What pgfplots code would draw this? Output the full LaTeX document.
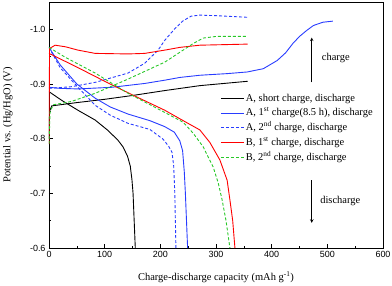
\documentclass[border=0pt]{standalone}
\usepackage{pgfplots}
\pgfplotsset{compat=1.18}
\usepackage{fontspec}
\setmainfont{Liberation Serif}
\newfontfamily\arial{Liberation Sans}
\definecolor{cblue}{RGB}{40,60,255}
\definecolor{cred}{RGB}{255,0,0}
\definecolor{cgreen}{RGB}{40,200,40}
\begin{document}
\begin{tikzpicture}
\begin{axis}[
  at={(0,0)}, anchor=south west,
  scale only axis, width=334bp, height=246bp,
  xmin=0, xmax=600, ymin=-1.05, ymax=-0.6,
  y dir=reverse,
  xtick={0,100,...,600},
  ytick={-1.0,-0.9,-0.8,-0.7,-0.6},
  yticklabels={-1.0,-0.9,-0.8,-0.7,-0.6},
  minor x tick num=1, minor y tick num=1,
  xtick pos=bottom, ytick pos=left,
  tick align=inside,
  major tick length=4bp, minor tick length=2.5bp,
  tick style={black, line width=0.6pt},
  axis line style={line width=0.7pt},
  ticklabel style={font=\arial\fontsize{9}{10}\selectfont},
  /pgf/number format/assume math mode=true,
  xlabel={Charge-discharge capacity (mAh g\textsuperscript{-1})},
  ylabel={Potential vs. (Hg/HgO) (V)},
  label style={font=\fontsize{10.5}{12}\selectfont},
  ylabel style={at={(axis description cs:-0.123,0.5)}, anchor=center},
  xlabel style={at={(axis description cs:0.5,-0.12)}, anchor=center},
  legend style={draw=none, fill=none, at={(0.513,0.637)}, anchor=north west,
    font=\fontsize{10.5}{12}\selectfont, row sep=1.3bp, inner sep=0pt,
    nodes={inner sep=1.5bp, text height=8bp, text depth=2.5bp}},
  legend cell align=left,
  legend image code/.code={\draw[#1] (0bp,0bp) -- (23bp,0bp);},
  every axis plot/.append style={line width=0.9pt},
]
% A short charge
\addplot[black, forget plot] coordinates {(0,-0.80) (1,-0.85) (5,-0.860) (50,-0.866) (100,-0.872) (150,-0.879) (208,-0.888) (271,-0.897) (357,-0.905)};
\addplot[black] coordinates {(0,-0.886) (10,-0.879) (23,-0.870) (52,-0.852) (83,-0.834) (106,-0.815) (124,-0.797) (133,-0.785) (141,-0.768) (146,-0.750) (149,-0.725) (151,-0.70) (153,-0.65) (155,-0.60)};
\addlegendentry{A, short charge, discharge}
% A 1st charge
\addplot[cblue, forget plot] coordinates {(0,-0.894) (20,-0.892) (52,-0.891) (113,-0.894) (172,-0.901) (208,-0.907) (235,-0.912) (271,-0.916) (320,-0.919) (356,-0.922) (385,-0.928) (410,-0.943) (425,-0.957) (438,-0.974) (450,-0.987) (463,-0.998) (475,-1.007) (492,-1.013) (510,-1.015)};
\addplot[cblue] coordinates {(0,-0.967) (20,-0.935) (50,-0.900) (83,-0.874) (110,-0.858) (142,-0.845) (181,-0.833) (208,-0.822) (225,-0.812) (235,-0.796) (240,-0.778) (243,-0.74) (245,-0.70) (247,-0.65) (249,-0.60)};
\addlegendentry{A, 1\textsuperscript{st} charge(8.5 h), discharge}
% A 2nd charge
\addplot[cblue, dashed, dash pattern=on 3bp off 2bp, forget plot] coordinates {(0,-0.892) (40,-0.895) (83,-0.903) (142,-0.920) (172,-0.938) (196,-0.962) (208,-0.980) (225,-1.000) (240,-1.015) (255,-1.024) (271,-1.026) (300,-1.025) (357,-1.022)};
\addplot[cblue, dashed, dash pattern=on 3bp off 2bp] coordinates {(0,-0.967) (20,-0.930) (52,-0.894) (83,-0.861) (110,-0.843) (142,-0.828) (181,-0.817) (205,-0.799) (215,-0.786) (221,-0.775) (224,-0.75) (226,-0.70) (227,-0.65) (228,-0.60)};
\addlegendentry{A, 2\textsuperscript{nd} charge, discharge}
% B 1st charge
\addplot[cred, forget plot] coordinates {(0,-0.79) (1,-0.965) (11,-0.971) (30,-0.968) (52,-0.962) (83,-0.956) (142,-0.955) (172,-0.956) (208,-0.962) (235,-0.967) (271,-0.971) (357,-0.973)};
\addplot[cred] coordinates {(0,-0.956) (50,-0.931) (100,-0.905) (150,-0.880) (208,-0.852) (241,-0.833) (271,-0.816) (289,-0.793) (307,-0.761) (320,-0.724) (325,-0.688) (330,-0.650) (334,-0.60)};
\addlegendentry{B, 1\textsuperscript{st} charge, discharge}
% B 2nd charge
\addplot[cgreen, dashed, dash pattern=on 3bp off 2bp, forget plot] coordinates {(0,-0.79) (2,-0.85) (8,-0.862) (40,-0.868) (83,-0.883) (142,-0.909) (208,-0.940) (235,-0.958) (259,-0.974) (277,-0.984) (300,-0.987) (357,-0.987)};
\addplot[cgreen, dashed, dash pattern=on 3bp off 2bp] coordinates {(0,-0.967) (29,-0.949) (83,-0.920) (142,-0.883) (208,-0.848) (241,-0.830) (259,-0.810) (277,-0.785) (295,-0.748) (304,-0.719) (311,-0.688) (318,-0.650) (325,-0.60)};
\addlegendentry{B, 2\textsuperscript{nd} charge, discharge}
% arrows
\draw[-stealth, line width=0.6pt] (axis cs:472,-0.903) -- (axis cs:472,-0.985);
\node[anchor=west, inner sep=0pt, font=\fontsize{10.5}{12}\selectfont] at (axis cs:490,-0.947) {charge};
\draw[-stealth, line width=0.6pt] (axis cs:472,-0.724) -- (axis cs:472,-0.646);
\node[anchor=west, inner sep=0pt, font=\fontsize{10.5}{12}\selectfont] at (axis cs:487,-0.686) {discharge};
\end{axis}
\pgfresetboundingbox
\path[use as bounding box] (-49bp,-38bp) rectangle (343bp,248bp);
\end{tikzpicture}
\end{document}
